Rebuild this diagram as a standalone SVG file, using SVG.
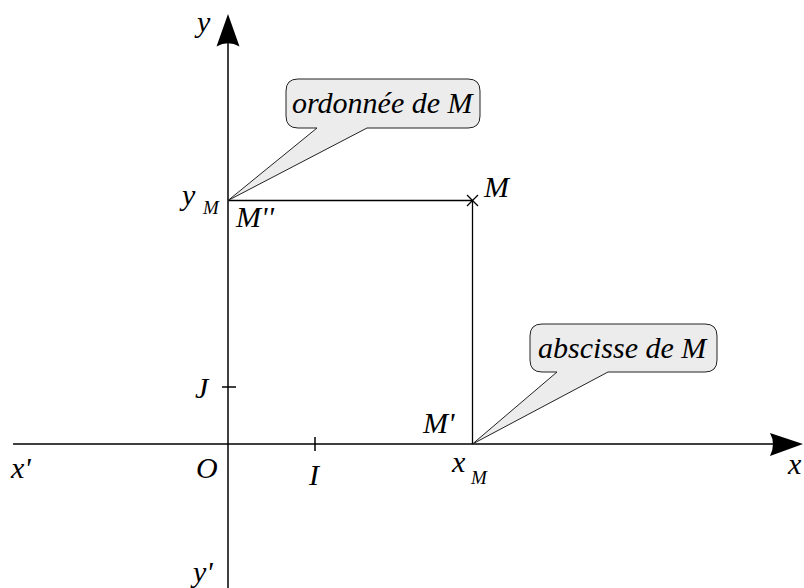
<svg xmlns="http://www.w3.org/2000/svg" width="804" height="588" viewBox="0 0 804 588">
<style>
text{font-family:'Liberation Serif','Times New Roman',serif;font-style:italic;fill:#000}
.t{font-size:30px}
.s{font-size:19px}
.ax{stroke:#000;stroke-width:1.5;fill:none}
.ln{stroke:#000;stroke-width:1.3;fill:none}
.co{fill:#ececec;stroke:#222;stroke-width:1}
</style>
<rect width="804" height="588" fill="#fff"/>
<g id="axes">
<line class="ax" x1="13" y1="444" x2="774" y2="444"/>
<path d="M803,444 L770,433 Q776,444 770,456 Z" fill="#000"/>
<line class="ax" x1="228" y1="588" x2="228" y2="42"/>
<path d="M228,14 L216.5,46.5 Q228,40 239.5,46.5 Z" fill="#000"/>
<line class="ax" x1="222" y1="387" x2="236" y2="387"/>
<line class="ax" x1="315" y1="437" x2="315" y2="451"/>
</g>
<g id="connectors">
<line class="ln" x1="228" y1="200.5" x2="472.5" y2="200.5"/>
<line class="ln" x1="472.5" y1="200.5" x2="472.5" y2="444"/>
</g>
<g id="point-M">
<line class="ln" x1="467" y1="195" x2="478" y2="206"/>
<line class="ln" x1="478" y1="195" x2="467" y2="206"/>
<text class="t" x="484" y="197">M</text>
</g>
<g id="callout-ordonnee">
<path class="co" d="M298,79 H468 Q480,79 480,91 V116 Q480,128 468,128 H367 L228,200.5 L317,128 H298 Q286,128 286,116 V91 Q286,79 298,79 Z"/>
<text class="t" x="292" y="113">ordonnée de M</text>
</g>
<g id="callout-abscisse">
<path class="co" d="M542,324 H705 Q717,324 717,336 V360 Q717,372 705,372 H608 L472.5,444 L557,372 H542 Q530,372 530,360 V336 Q530,324 542,324 Z"/>
<text class="t" x="538" y="358">abscisse de M</text>
</g>
<g id="labels">
<text class="t" x="197" y="32">y</text>
<text class="t" x="182" y="205">y</text>
<text class="s" x="203" y="214">M</text>
<text class="t" x="236" y="227">M''</text>
<text class="t" x="423" y="433">M'</text>
<text class="t" x="195" y="398">J</text>
<text class="t" x="11" y="478">x'</text>
<text class="t" x="196" y="478">O</text>
<text class="t" x="309" y="485">I</text>
<text class="t" x="452" y="472">x</text>
<text class="s" x="471" y="484">M</text>
<text class="t" x="788" y="474">x</text>
<text class="t" x="193" y="582">y'</text>
</g>
</svg>
